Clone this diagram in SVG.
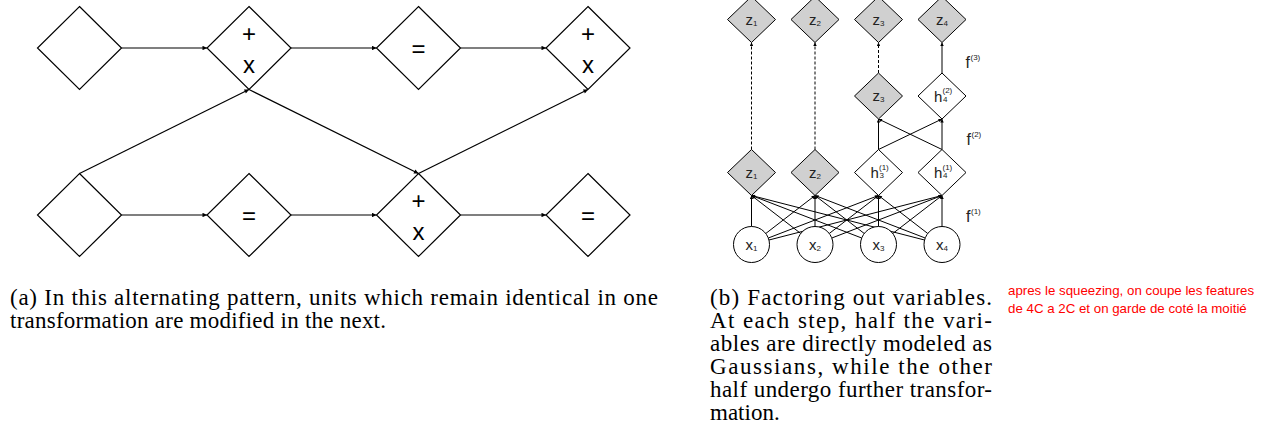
<svg xmlns="http://www.w3.org/2000/svg" width="1280" height="440" viewBox="0 0 1280 440">
<style>
.dl{fill:#fff;stroke:#000;stroke-width:1.2}
.dg{fill:#d0d0d0;stroke:#000;stroke-width:1}
.dw{fill:#fff;stroke:#000;stroke-width:1}
.c{stroke:#000;stroke-width:1.2;fill:none}
.cr{stroke:#000;stroke-width:1;fill:none}
.dash{stroke-dasharray:3,2}
.op{font-family:"Liberation Sans",Arial,sans-serif;font-size:24px;fill:#000;text-anchor:middle}
.lb{font-family:"Liberation Sans",Arial,sans-serif;font-size:15px;fill:#222}
.sm{font-size:8px}
.cap{font-family:"Liberation Serif","Times New Roman",serif;font-size:23px;fill:#000}
.red{font-family:"Liberation Sans",Arial,sans-serif;font-size:13.3px;fill:#ff0000}
</style>
<defs>
<marker id="ah" viewBox="0 0 10 10" refX="10" refY="5" markerWidth="7" markerHeight="4.5" markerUnits="userSpaceOnUse" orient="auto"><path d="M0,0 L10,5 L0,10 z" fill="#000"/></marker>
<marker id="as" viewBox="0 0 10 10" refX="10" refY="5" markerWidth="5" markerHeight="3.5" markerUnits="userSpaceOnUse" orient="auto"><path d="M0,0 L10,5 L0,10 z" fill="#000"/></marker>
</defs>

<!-- left diagram nodes -->
<g id="a1"><polygon class="dl" points="79.5,6.5 121.5,48 79.5,89.5 37.5,48"/></g>
<g id="a2"><polygon class="dl" points="249,6.5 291,48 249,89.5 207,48"/><text class="op" x="249" y="41.5">+</text><text class="op" x="249" y="73">x</text></g>
<g id="a3"><polygon class="dl" points="418.5,6.5 460.5,48 418.5,89.5 376.5,48"/><text class="op" x="418.5" y="56.5">=</text></g>
<g id="a4"><polygon class="dl" points="588,6.5 630,48 588,89.5 546,48"/><text class="op" x="588" y="41.5">+</text><text class="op" x="588" y="73">x</text></g>
<g id="b1"><polygon class="dl" points="79.5,173.5 121.5,215 79.5,256.5 37.5,215"/></g>
<g id="b2"><polygon class="dl" points="249,173.5 291,215 249,256.5 207,215"/><text class="op" x="249" y="223.5">=</text></g>
<g id="b3"><polygon class="dl" points="418.5,173.5 460.5,215 418.5,256.5 376.5,215"/><text class="op" x="418.5" y="208.5">+</text><text class="op" x="418.5" y="240">x</text></g>
<g id="b4"><polygon class="dl" points="588,173.5 630,215 588,256.5 546,215"/><text class="op" x="588" y="223.5">=</text></g>

<!-- left diagram connectors -->
<g id="left-connectors" class="c" marker-end="url(#ah)">
<line x1="121.5" y1="48" x2="207" y2="48"/>
<line x1="291" y1="48" x2="376.5" y2="48"/>
<line x1="460.5" y1="48" x2="546" y2="48"/>
<line x1="121.5" y1="215" x2="207" y2="215"/>
<line x1="291" y1="215" x2="376.5" y2="215"/>
<line x1="460.5" y1="215" x2="546" y2="215"/>
<line x1="79.5" y1="173.5" x2="249" y2="89.5"/>
<line x1="249" y1="89.5" x2="418.5" y2="173.5"/>
<line x1="418.5" y1="173.5" x2="588" y2="89.5"/>
</g>

<!-- right diagram connectors -->
<g id="right-connectors" class="cr" marker-end="url(#as)">
<line class="dash" x1="751.5" y1="149.5" x2="751.5" y2="42.5"/>
<line class="dash" x1="815" y1="149.5" x2="815" y2="42.5"/>
<line class="dash" x1="878.5" y1="73" x2="878.5" y2="42.5"/>
<line x1="942" y1="73" x2="942" y2="42.5"/>
<line x1="878.5" y1="149.5" x2="878.5" y2="119"/>
<line x1="878.5" y1="149.5" x2="942" y2="119"/>
<line x1="942" y1="149.5" x2="942" y2="119"/>
<line x1="942" y1="149.5" x2="878.5" y2="119"/>
<line x1="751.5" y1="226.5" x2="751.5" y2="195.5"/>
<line x1="765.75" y1="233.5" x2="815" y2="195.5"/>
<line x1="768.29" y1="238.02" x2="878.5" y2="195.5"/>
<line x1="768.93" y1="240.02" x2="942" y2="195.5"/>
<line x1="800.75" y1="233.5" x2="751.5" y2="195.5"/>
<line x1="815" y1="226.5" x2="815" y2="195.5"/>
<line x1="829.25" y1="233.5" x2="878.5" y2="195.5"/>
<line x1="831.79" y1="238.02" x2="942" y2="195.5"/>
<line x1="861.71" y1="238.02" x2="751.5" y2="195.5"/>
<line x1="864.25" y1="233.5" x2="815" y2="195.5"/>
<line x1="878.5" y1="226.5" x2="878.5" y2="195.5"/>
<line x1="892.75" y1="233.5" x2="942" y2="195.5"/>
<line x1="924.57" y1="240.02" x2="751.5" y2="195.5"/>
<line x1="925.21" y1="238.02" x2="815" y2="195.5"/>
<line x1="927.75" y1="233.5" x2="878.5" y2="195.5"/>
<line x1="942" y1="226.5" x2="942" y2="195.5"/>
</g>

<!-- right diagram nodes -->
<g id="z1top"><polygon class="dg" points="751.5,-3.5 775.5,19.5 751.5,42.5 727.5,19.5"/><text class="lb" x="751.5" y="24.5" text-anchor="middle">z<tspan class="sm" dy="1">1</tspan></text></g>
<g id="z2top"><polygon class="dg" points="815,-3.5 839,19.5 815,42.5 791,19.5"/><text class="lb" x="815" y="24.5" text-anchor="middle">z<tspan class="sm" dy="1">2</tspan></text></g>
<g id="z3top"><polygon class="dg" points="878.5,-3.5 902.5,19.5 878.5,42.5 854.5,19.5"/><text class="lb" x="878.5" y="24.5" text-anchor="middle">z<tspan class="sm" dy="1">3</tspan></text></g>
<g id="z4top"><polygon class="dg" points="942,-3.5 966,19.5 942,42.5 918,19.5"/><text class="lb" x="942" y="24.5" text-anchor="middle">z<tspan class="sm" dy="1">4</tspan></text></g>

<g id="z3mid"><polygon class="dg" points="878.5,73 902.5,96 878.5,119 854.5,96"/><text class="lb" x="878.5" y="101" text-anchor="middle">z<tspan class="sm" dy="1">3</tspan></text></g>
<g id="h4-2"><polygon class="dw" points="942,73 966,96 942,119 918,96"/><text class="lb"><tspan x="934" y="101.5">h</tspan><tspan class="sm" x="942.5" y="93">(2)</tspan><tspan class="sm" x="943" y="101.5">4</tspan></text></g>

<g id="z1bot"><polygon class="dg" points="751.5,149.5 775.5,172.5 751.5,195.5 727.5,172.5"/><text class="lb" x="751.5" y="177.5" text-anchor="middle">z<tspan class="sm" dy="1">1</tspan></text></g>
<g id="z2bot"><polygon class="dg" points="815,149.5 839,172.5 815,195.5 791,172.5"/><text class="lb" x="815" y="177.5" text-anchor="middle">z<tspan class="sm" dy="1">2</tspan></text></g>
<g id="h3-1"><polygon class="dw" points="878.5,149.5 902.5,172.5 878.5,195.5 854.5,172.5"/><text class="lb"><tspan x="870.5" y="178">h</tspan><tspan class="sm" x="879" y="169.5">(1)</tspan><tspan class="sm" x="879.5" y="178">3</tspan></text></g>
<g id="h4-1"><polygon class="dw" points="942,149.5 966,172.5 942,195.5 918,172.5"/><text class="lb"><tspan x="934" y="178">h</tspan><tspan class="sm" x="942.5" y="169.5">(1)</tspan><tspan class="sm" x="943" y="178">4</tspan></text></g>

<g id="x1"><circle class="dw" cx="751.5" cy="244.5" r="18"/><text class="lb" x="751.5" y="249.5" font-size="14" text-anchor="middle">x<tspan class="sm" dy="1">1</tspan></text></g>
<g id="x2"><circle class="dw" cx="815" cy="244.5" r="18"/><text class="lb" x="815" y="249.5" font-size="14" text-anchor="middle">x<tspan class="sm" dy="1">2</tspan></text></g>
<g id="x3"><circle class="dw" cx="878.5" cy="244.5" r="18"/><text class="lb" x="878.5" y="249.5" font-size="14" text-anchor="middle">x<tspan class="sm" dy="1">3</tspan></text></g>
<g id="x4"><circle class="dw" cx="942" cy="244.5" r="18"/><text class="lb" x="942" y="249.5" font-size="14" text-anchor="middle">x<tspan class="sm" dy="1">4</tspan></text></g>

<g id="f-labels" class="lb">
<text><tspan x="965.5" y="68" font-size="16">f</tspan><tspan class="sm" x="970.5" y="60">(3)</tspan></text>
<text><tspan x="966.5" y="145" font-size="16">f</tspan><tspan class="sm" x="971.5" y="137">(2)</tspan></text>
<text><tspan x="966" y="221.5" font-size="16">f</tspan><tspan class="sm" x="971" y="213.5">(1)</tspan></text>
</g>

<!-- captions -->
<g id="caption-a" class="cap">
<text x="10" y="305" textLength="648" lengthAdjust="spacing">(a) In this alternating pattern, units which remain identical in one</text>
<text x="10" y="328" textLength="376" lengthAdjust="spacing">transformation are modified in the next.</text>
</g>
<g id="caption-b" class="cap">
<text x="710" y="305" textLength="282" lengthAdjust="spacing">(b) Factoring out variables.</text>
<text x="710" y="328" textLength="282" lengthAdjust="spacing">At each step, half the vari-</text>
<text x="710" y="351" textLength="282" lengthAdjust="spacing">ables are directly modeled as</text>
<text x="710" y="374" textLength="282" lengthAdjust="spacing">Gaussians, while the other</text>
<text x="710" y="397" textLength="282" lengthAdjust="spacing">half undergo further transfor-</text>
<text x="710" y="420">mation.</text>
</g>
<g id="note" class="red">
<text x="1008" y="295">apres le squeezing, on coupe les features</text>
<text x="1008" y="313">de 4C a 2C et on garde de coté la moitié</text>
</g>
</svg>
